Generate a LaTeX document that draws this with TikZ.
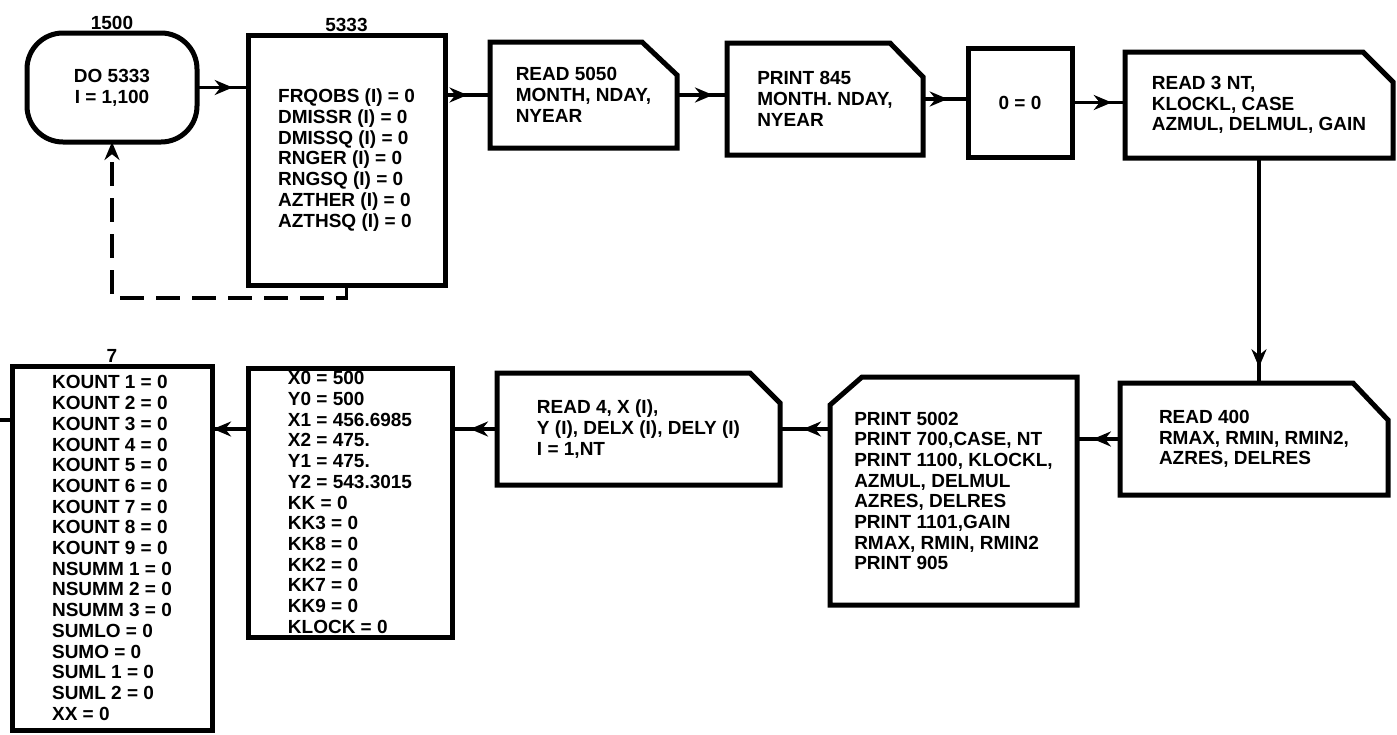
\documentclass[tikz,border=0pt]{standalone}
\usepackage{fontspec}
\setmainfont{Liberation Sans}
\usetikzlibrary{arrows.meta, positioning, decorations.markings}

\begin{document}
\begin{tikzpicture}[>=Stealth, line join=miter]
  \tikzset{
    box/.style={rectangle, draw, line width=5pt, align=left, inner sep=2pt, outer sep=0pt,
      font=\fontsize{19}{20.7}\selectfont\bfseries},
    term/.style={box, rounded corners=36pt, align=center},
    card/.style={box, draw=none},
    rim/.style={line width=5pt},
    tag/.style={font=\fontsize{19}{20}\selectfont\bfseries, inner sep=1pt, label distance=2pt},
    flow/.style={line width=3.5pt, postaction={decorate}, decoration={markings,
      mark=at position #1 with {\arrow{Stealth[length=18pt,width=15pt]}}}},
    flow/.default=0.65,
    link/.style={line width=3.5pt},
    back/.style={line width=3.5pt, dash pattern=on 24pt off 12pt}
  }
  \useasboundingbox (0,0) rectangle (1397pt,-734pt);

  % top row
  \node[term, minimum width=170pt, minimum height=109pt, label={[tag]above:1500}] (loop) at (112pt,-87.5pt) {DO 5333\\I = 1,100};
  \node[box, minimum width=197pt, minimum height=250pt, right=51pt of loop.north east, anchor=north west, yshift=-2pt, label={[tag]above:5333}] (init) {FRQOBS (I) = 0\\DMISSR (I) = 0\\DMISSQ (I) = 0\\RNGER (I) = 0\\RNGSQ (I) = 0\\AZTHER (I) = 0\\AZTHSQ (I) = 0};
  \node[card, minimum width=187pt, minimum height=106pt, right=45pt of init.north east, anchor=north west, yshift=-7pt] (rd1) {READ 5050\\MONTH, NDAY,\\NYEAR};
  \node[card, minimum width=196pt, minimum height=112pt, right=50pt of rd1, yshift=-4pt] (pr1) {PRINT 845\\MONTH. NDAY,\\NYEAR};
  \node[box, align=center, minimum width=104pt, minimum height=109pt, right=45pt of pr1, yshift=-3.5pt] (zero) {0 = 0};
  \node[card, minimum width=268pt, minimum height=106pt, right=53pt of zero, yshift=-2.5pt] (rd3) {READ 3 NT,\\KLOCKL, CASE\\AZMUL, DELMUL, GAIN};

  % bottom row, right to left
  \node[card, minimum width=268pt, minimum height=112pt, below=225pt of rd3, xshift=-5pt] (rd4) {READ 400\\RMAX, RMIN, RMIN2,\\AZRES, DELRES};
  \node[card, minimum width=247pt, minimum height=228pt, left=43pt of rd4.west, yshift=-52pt] (prn) {PRINT 5002\\PRINT 700,CASE, NT\\PRINT 1100, KLOCKL,\\AZMUL, DELMUL\\AZRES, DELRES\\PRINT 1101,GAIN\\RMAX, RMIN, RMIN2\\PRINT 905};
  \node[card, minimum width=283pt, minimum height=112pt, left=50pt of prn.west, yshift=62pt] (rd5) {READ 4, X (I),\\Y (I), DELX (I), DELY (I)\\I = 1,NT};
  \node[box, minimum width=204pt, minimum height=269pt, left=45pt of rd5.west, anchor=north east, yshift=61pt] (vals) {X0 = 500\\Y0 = 500\\X1 = 456.6985\\X2 = 475.\\Y1 = 475.\\Y2 = 543.3015\\KK = 0\\KK3 = 0\\KK8 = 0\\KK2 = 0\\KK7 = 0\\KK9 = 0\\KLOCK = 0};
  \node[box, minimum width=200pt, minimum height=364pt, left=36pt of vals.north west, anchor=north east, yshift=2pt, label={[tag]above:7}] (kount) {KOUNT 1 = 0\\KOUNT 2 = 0\\KOUNT 3 = 0\\KOUNT 4 = 0\\KOUNT 5 = 0\\KOUNT 6 = 0\\KOUNT 7 = 0\\KOUNT 8 = 0\\KOUNT 9 = 0\\NSUMM 1 = 0\\NSUMM 2 = 0\\NSUMM 3 = 0\\SUMLO = 0\\SUMO = 0\\SUML 1 = 0\\SUML 2 = 0\\XX = 0};
  \coordinate[left=12pt of kount.west, yshift=128pt] (exit);

  % card outlines with cut corner
  \draw[rim] (rd1.south west) -- (rd1.north west) -- ([xshift=-35pt]rd1.north east) -- ([yshift=-33pt]rd1.north east) -- (rd1.south east) -- cycle;
  \draw[rim] (pr1.south west) -- (pr1.north west) -- ([xshift=-33pt]pr1.north east) -- ([yshift=-34pt]pr1.north east) -- (pr1.south east) -- cycle;
  \draw[rim] (rd3.south west) -- (rd3.north west) -- ([xshift=-30pt]rd3.north east) -- ([yshift=-30pt]rd3.north east) -- (rd3.south east) -- cycle;
  \draw[rim] (rd4.south west) -- (rd4.north west) -- ([xshift=-35pt]rd4.north east) -- ([yshift=-37pt]rd4.north east) -- (rd4.south east) -- cycle;
  \draw[rim] (prn.south west) -- ([yshift=-28pt]prn.north west) -- ([xshift=32pt]prn.north west) -- (prn.north east) -- (prn.south east) -- cycle;
  \draw[rim] (rd5.south west) -- (rd5.north west) -- ([xshift=-30pt]rd5.north east) -- ([yshift=-30pt]rd5.north east) -- (rd5.south east) -- cycle;

  % connectors
  \draw[flow=0.7] (loop.east) -- (loop.east -| init.west);
  \draw[flow=0.5] (rd1.west -| init.east) -- (rd1.west);
  \draw[flow=0.72] (rd1.east) -- (rd1.east -| pr1.west);
  \draw[flow=0.55] (pr1.east) -- (pr1.east -| zero.west);
  \draw[flow=0.75] (zero.east) -- (zero.east -| rd3.west);
  \draw[flow=0.93] (rd3.south) -- (rd3.south |- rd4.north);
  \draw[flow=0.63] (rd4.west) -- (rd4.west -| prn.east);
  \draw[flow=0.54] (rd5.east -| prn.west) -- (rd5.east);
  \draw[flow=0.6] (rd5.west) -- (rd5.west -| vals.east);
  \draw[flow=0.97] (vals.west |- rd5.west) -- (kount.east |- rd5.west);
  \draw[link] (kount.west |- exit) -- (exit);
  \draw[back, -{Stealth[length=18pt,width=15pt]}] (init.south) -- ++(0,-13pt) -| (loop.south);
\end{tikzpicture}
\end{document}
